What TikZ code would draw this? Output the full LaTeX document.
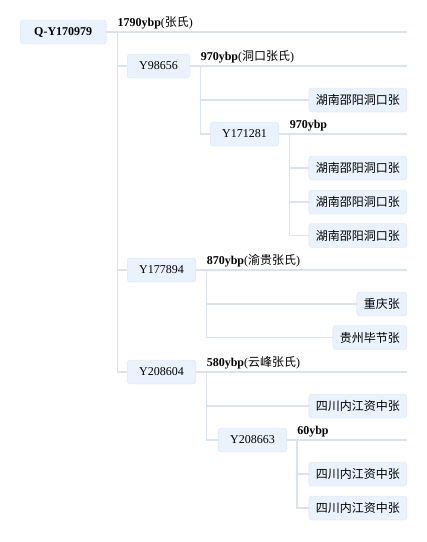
\documentclass[tikz,border=0pt]{standalone}
\usepackage{fontspec}
\setmainfont{Liberation Serif}
\newfontfamily\cjk{Noto Sans CJK SC}
\usetikzlibrary{positioning}
\definecolor{boxfill}{HTML}{E9F2FD}
\definecolor{boxline}{HTML}{D6E4F6}
\definecolor{wire}{HTML}{D9E3EF}
\begin{document}
\begin{tikzpicture}[x=1pt,y=-1pt]
                    \tikzstyle{every node}=[inner sep=0,font=\fontsize{12}{14}\selectfont]
                    \tikzstyle{hap}=[fill=boxfill,draw=boxline,rounded corners=3,minimum height=24,inner xsep=12]
                    \tikzstyle{place}=[hap,inner xsep=7,font=\fontsize{12}{14}\selectfont\cjk]
                    \tikzstyle{note}=[anchor=base west,yshift=5.5]
                    \tikzstyle{link}=[draw=wire,line width=1.6]
                    \useasboundingbox (0,0) rectangle (427,542);
                    {
                        % haplogroup boxes
                        \node[hap,anchor=west,inner xsep=14,font=\fontsize{12}{14}\selectfont\bfseries] (q) at (20,32) {Q-Y170979};
                        \node[hap,anchor=west] (y98656) at (127,66) {Y98656};
                        \node[hap,anchor=west] (y171281) at (210,134) {Y171281};
                        \node[hap,anchor=west] (y177894) at (127,270) {Y177894};
                        \node[hap,anchor=west] (y208604) at (127,372) {Y208604};
                        \node[hap,anchor=west] (y208663) at (218,440) {Y208663};

                        % place boxes
                        \node[place,anchor=east] (hn1) at (407,100) {湖南邵阳洞口张};
                        \node[place,anchor=east] (hn2) at (407,168) {湖南邵阳洞口张};
                        \node[place,anchor=east] (hn3) at (407,202) {湖南邵阳洞口张};
                        \node[place,anchor=east] (hn4) at (407,235.5) {湖南邵阳洞口张};
                        \node[place,anchor=east] (cq) at (407,304) {重庆张};
                        \node[place,anchor=east] (gz) at (407,337.5) {贵州毕节张};
                        \node[place,anchor=east] (sc1) at (407,406) {四川内江资中张};
                        \node[place,anchor=east] (sc2) at (407,474) {四川内江资中张};
                        \node[place,anchor=east] (sc3) at (407,508) {四川内江资中张};

                        % line ends and trunks
                        \coordinate (qend) at (407,32);
                        \coordinate (y98656end) at (407,66);
                        \coordinate (y171281end) at (407,134);
                        \coordinate (y177894end) at (407,270);
                        \coordinate (y208604end) at (407,372);
                        \coordinate (y208663end) at (407,440);
                        \path (q.east) ++(11,0) coordinate (qt);
                        \path (y98656.east) ++(10.5,0) coordinate (y98656t);
                        \path (y171281.east) ++(10.5,0) coordinate (y171281t);
                        \path (y177894.east) ++(10.5,0) coordinate (y177894t);
                        \path (y208604.east) ++(10.5,0) coordinate (y208604t);
                        \path (y208663.east) ++(10,0) coordinate (y208663t);

                        \node[note] (lq) at (qt) {\textbf{1790ybp}({\cjk 张氏})};
                        \node[note] (ly98656) at (y98656t) {\textbf{970ybp}({\cjk 洞口张氏})};
                        \node[note] (ly171281) at (y171281t) {\textbf{970ybp}};
                        \node[note] (ly177894) at (y177894t) {\textbf{870ybp}({\cjk 渝贵张氏})};
                        \node[note] (ly208604) at (y208604t) {\textbf{580ybp}({\cjk 云峰张氏})};
                        \node[note] (ly208663) at (y208663t) {\textbf{60ybp}};

                        \path[link]
                            (q) -- (qend)
                            (y98656) -- (y98656end)
                            (y171281) -- (y171281end)
                            (y177894) -- (y177894end)
                            (y208604) -- (y208604end)
                            (y208663) -- (y208663end);

                        \path[link]
                            (qt) |- (y98656)
                            (qt) |- (y177894)
                            (qt) |- (y208604)
                            (y98656t) |- (hn1)
                            (y98656t) |- (y171281)
                            (y171281t) |- (hn2)
                            (y171281t) |- (hn3)
                            (y171281t) |- (hn4)
                            (y177894t) |- (cq)
                            (y177894t) |- (gz)
                            (y208604t) |- (sc1)
                            (y208604t) |- (y208663)
                            (y208663t) |- (sc2)
                            (y208663t) |- (sc3);
                    }
                \end{tikzpicture}
\end{document}
